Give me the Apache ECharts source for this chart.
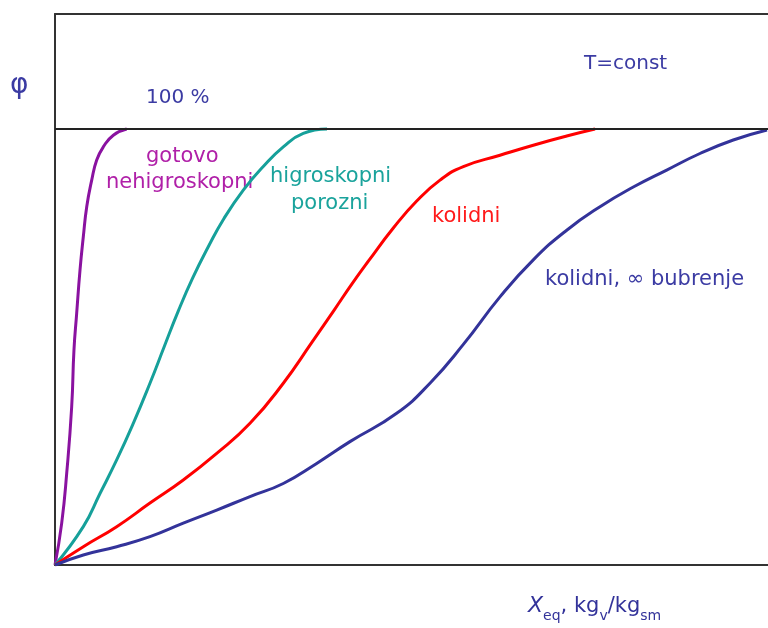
<!DOCTYPE html>
<html>
<head>
<meta charset="utf-8">
<script src="https://cdn.jsdelivr.net/npm/echarts@6/dist/echarts.min.js"></script>
<style>html,body{margin:0;padding:0;background:#fff;}#c{width:768px;height:628px;}</style>
</head>
<body>
<div id="c"></div>
<script>
// X_eq (relative units, 0..100) and φ (%)
const purpleX = [0, 0.94, 1.64, 2.34, 2.66, 3.04, 3.51, 3.97, 4.45, 5.15, 5.85, 6.77, 8.18, 10.06];
const purpleY = [0, 9.6, 21.0, 36.3, 49.3, 57.7, 67.7, 75.3, 82.2, 88.3, 92.9, 95.9, 98.6, 100];
const tealX = [0, 3.97, 6.31, 8.65, 10.98, 13.32, 15.3, 17.3, 19.3, 21.5, 23.7, 26.41, 29.21, 32.02, 34.82, 38.15];
const tealY = [0, 8.8, 16.4, 24.1, 32.5, 41.7, 50.0, 58.3, 65.8, 73.0, 79.5, 86.0, 91.4, 95.9, 99.0, 100];
const redX = [0, 3.97, 8.65, 13.32, 17.99, 22.68, 27.35, 32.02, 36.0, 39.2, 41.7, 44.0, 47.45, 50.73, 54.0, 57.27, 62.41, 67.08, 71.77, 75.74];
const redY = [0, 4.2, 8.8, 14.2, 19.5, 25.6, 32.5, 41.7, 51.0, 58.6, 64.6, 69.8, 77.3, 83.5, 88.3, 91.4, 94.0, 96.3, 98.4, 100];
const blueX = [0, 3.97, 8.65, 13.32, 17.99, 22.68, 27.35, 32.02, 36.70, 41.37, 47.92, 52.59, 57.27, 62.41, 67.08, 71.77, 76.44, 81.11, 85.79, 90.46, 95.13, 99.86];
const blueY = [0, 2.3, 4.2, 6.5, 9.6, 12.6, 15.7, 18.7, 23.3, 28.3, 34.8, 41.7, 50.6, 61.5, 70.0, 76.8, 82.2, 86.7, 90.6, 94.4, 97.5, 99.8];
const saturation = 100;

const zip = (xs, ys) => xs.map((x, i) => [x, ys[i]]);
const chart = echarts.init(document.getElementById('c'));
const FONT = '"DejaVu Sans"';
const BLUE_TXT = '#3b3ba3';

function curve(name, xs, ys, color, extra) {
  return Object.assign({
    name, type: 'line', data: zip(xs, ys), smooth: 0.5,
    showSymbol: false, symbol: 'none',
    lineStyle: { color, width: 3 }, z: 3, silent: true
  }, extra || {});
}

chart.setOption({
  animation: false,
  backgroundColor: '#fff',
  grid: { left: 55, right: 0, top: 14, bottom: 63 },
  xAxis: [
    { type: 'value', min: 0, max: 100, position: 'bottom',
      axisLine: { show: true, onZero: false, lineStyle: { color: '#333', width: 2 } },
      axisTick: { show: false }, axisLabel: { show: false }, splitLine: { show: false } },
    { type: 'value', min: 0, max: 100, position: 'top',
      axisLine: { show: true, onZero: false, lineStyle: { color: '#333', width: 2 } },
      axisTick: { show: false }, axisLabel: { show: false }, splitLine: { show: false } }
  ],
  yAxis: { type: 'value', min: 0, max: 126.4,
    axisLine: { show: true, onZero: false, lineStyle: { color: '#333', width: 2 } },
    axisTick: { show: false }, axisLabel: { show: false }, splitLine: { show: false } },
  series: [
    curve('gotovo nehigroskopni', purpleX, purpleY, '#8a12a0', {
      markLine: { silent: true, symbol: 'none', label: { show: false },
        lineStyle: { color: '#222', width: 2, type: 'solid' },
        data: [{ yAxis: saturation }] }
    }),
    curve('higroskopni porozni', tealX, tealY, '#16a09a'),
    curve('kolidni', redX, redY, '#ff0000'),
    curve('kolidni, ∞ bubrenje', blueX, blueY, '#33339a')
  ],
  graphic: [
    { type: 'text', left: 10, top: 72, style: { text: 'φ', font: '28px ' + FONT, fill: BLUE_TXT } },
    { type: 'text', left: 146, top: 88, style: { text: '100 %', font: '20px ' + FONT, fill: BLUE_TXT } },
    { type: 'text', left: 584, top: 54, style: { text: 'T=const', font: '20px ' + FONT, fill: BLUE_TXT } },
    { type: 'text', left: 146, top: 146, style: { text: 'gotovo', font: '21px ' + FONT, fill: '#b020a8' } },
    { type: 'text', left: 106, top: 172, style: { text: 'nehigroskopni', font: '21px ' + FONT, fill: '#b020a8' } },
    { type: 'text', left: 270, top: 166, style: { text: 'higroskopni', font: '21px ' + FONT, fill: '#1aa39c' } },
    { type: 'text', left: 291, top: 193, style: { text: 'porozni', font: '21px ' + FONT, fill: '#1aa39c' } },
    { type: 'text', left: 432, top: 206, style: { text: 'kolidni', font: '21px ' + FONT, fill: '#ff1a1a' } },
    { type: 'text', left: 545, top: 269, style: { text: 'kolidni, ∞ bubrenje', font: '21px ' + FONT, fill: BLUE_TXT } },
    { type: 'text', left: 528, top: 595, style: {
        text: '{x|X}{s|eq}{n|, kg}{s|v}{n|/kg}{s|sm}',
        rich: {
          x: { font: 'italic 22px ' + FONT, fill: '#33339a', verticalAlign: 'bottom' },
          n: { font: '21px ' + FONT, fill: '#33339a', verticalAlign: 'bottom' },
          s: { font: '14px ' + FONT, fill: '#33339a', verticalAlign: 'bottom', padding: [0, 0, -6, 0] }
        }
      } }
  ]
});
</script>
</body>
</html>
